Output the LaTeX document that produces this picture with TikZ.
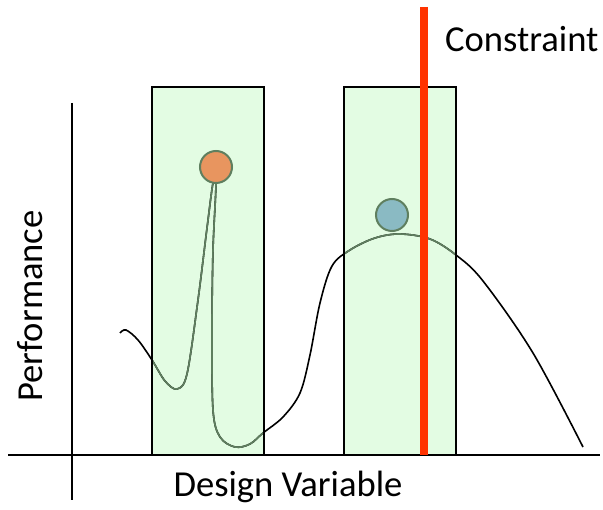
\documentclass[tikz,border=0pt]{standalone}
\usepackage{fontspec}
\setmainfont{Carlito}
\usetikzlibrary{positioning}

\definecolor{winfill}{HTML}{E3FCE3}
\definecolor{curvegreen}{HTML}{5F7F5F}
\definecolor{dotorange}{HTML}{E8955F}
\definecolor{dotblue}{HTML}{8ABAC3}
\definecolor{limitred}{HTML}{FF3300}

\newcommand{\perfpath}[1]{%
  \draw[#1] plot[smooth, tension=0.55] coordinates {
    (120,333) (126,330) (138,340) (152,360) (165,381) (177,389) (187,374)
    (198,300) (207,228) (213,183) (216,183) (213,250) (212,330) (213,410)
    (220,437) (235,447) (250,444) (263,433) (283,417) (300,393) (310,355)
    (320,303) (332,266) (350,250) (375,238) (400,234) (430,239) (456,255)
    (483,281) (533,353) (583,447)};}

\begin{document}
\begin{tikzpicture}[
    x=1pt, y=-1pt,
    font=\fontsize{36.6}{44}\selectfont,
    window/.style={draw=black, line width=2pt, fill=winfill},
    axisline/.style={draw=black, line width=2pt},
    curveline/.style={line width=1.6pt},
    dot/.style={circle, draw=curvegreen, line width=2pt, minimum size=32pt, inner sep=0pt},
    limit/.style={draw=limitred, line width=8pt}
  ]
  \useasboundingbox (0,0) rectangle (603,510);

  \fill[winfill] (152,87) rectangle (264,455);
  \fill[winfill] (344,87) rectangle (456,455);

  \perfpath{curveline, black}
  \begin{scope}
    \clip (152,87) rectangle (264,455) (344,87) rectangle (456,455);
    \perfpath{curveline, curvegreen}
  \end{scope}

  \draw[window, fill=none] (152,87) rectangle (264,455);
  \draw[window, fill=none] (344,87) rectangle (456,455);

  \coordinate (xleft) at (8,455);
  \coordinate (xright) at (600,455);
  \coordinate (ytop) at (72,103);
  \coordinate (ybot) at (72,500);
  \draw[axisline] (xleft) -- (xright);
  \draw[axisline] (ytop) -- (ybot);

  \coordinate (limtop) at (424,7);
  \coordinate (limbot) at (424,455);
  \draw[limit] (limtop) -- (limbot);

  \node[dot, fill=dotorange] (best) at (216,167) {};
  \node[dot, fill=dotblue] (feasible) at (392,215) {};

  \node[anchor=base west, inner sep=0pt] (constraint) at (445,52) {Constraint};
  \node[anchor=base, inner sep=0pt] (xlabel) at (288,497) {Design Variable};
  \node[anchor=base, rotate=90, inner sep=0pt] (ylabel) at (42,306) {Performance};
\end{tikzpicture}
\end{document}
